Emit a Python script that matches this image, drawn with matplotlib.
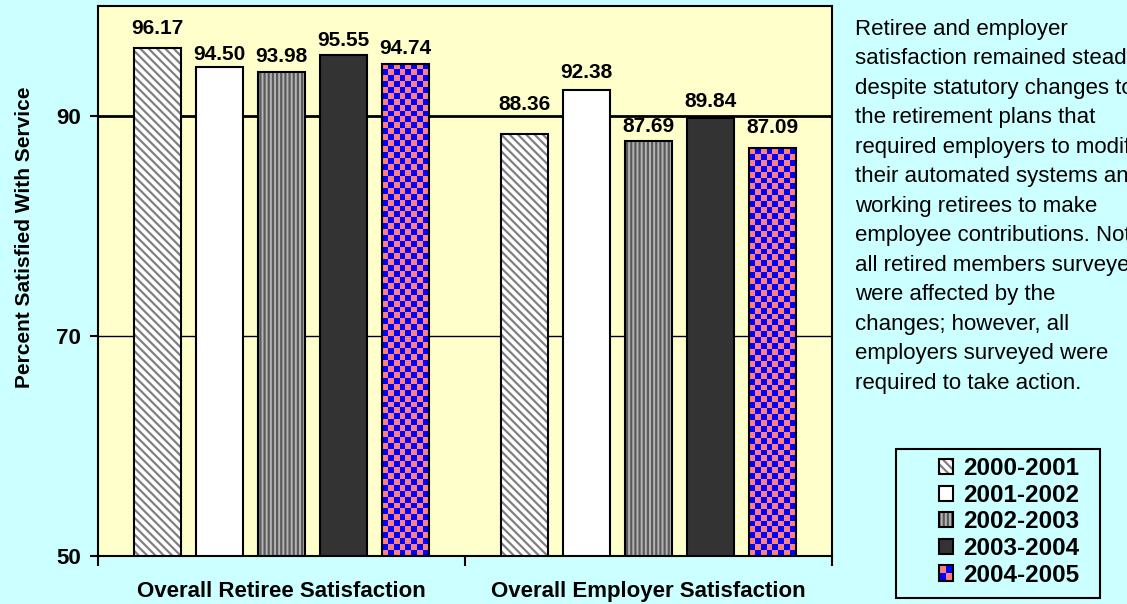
import numpy as np
import matplotlib.pyplot as plt
from matplotlib.patches import Rectangle
from matplotlib.colors import ListedColormap
from matplotlib.legend_handler import HandlerBase

plt.rcParams['font.family'] = ['Liberation Sans', 'DejaVu Sans']
plt.rcParams['hatch.linewidth'] = 1.6

# Survey results
categories = ['Overall Retiree Satisfaction', 'Overall Employer Satisfaction']
years = ['2000-2001', '2001-2002', '2002-2003', '2003-2004', '2004-2005']
retiree = [96.17, 94.50, 93.98, 95.55, 94.74]
employer = [88.36, 92.38, 87.69, 89.84, 87.09]
yticks = [50, 70, 90]

note = ("Retiree and employer\n"
        "satisfaction remained steady\n"
        "despite statutory changes to\n"
        "the retirement plans that\n"
        "required employers to modify\n"
        "their automated systems and\n"
        "working retirees to make\n"
        "employee contributions. Not\n"
        "all retired members surveyed\n"
        "were affected by the\n"
        "changes; however, all\n"
        "employers surveyed were\n"
        "required to take action.")

BG = '#CCFFFF'
PLOT_BG = '#FFFFCC'
SALMON = '#FF8080'
BLUE = '#0000FF'

# fill style per season: (face, hatch colour, hatch, checkerboard?)
styles = [
    ('white', '#808080', r'\\\\', False),
    ('white', 'white', '', False),
    ('#B4B4B4', '#5A5A5A', '||||', False),
    ('#333333', '#333333', '', False),
    (SALMON, SALMON, '', True),
]
# label distance above each bar top, pixels
label_gap = [[14, 7, 10, 9, 10], [24, 12, 9, 11, 15]]

fig = plt.figure(figsize=(11.27, 6.04), dpi=100, facecolor=BG)
ax = fig.add_axes([98 / 1127, 48 / 604, 734 / 1127, 550 / 604])
ax.set_facecolor(PLOT_BG)
ax.set_axisbelow(True)

x = np.arange(len(categories))
step, width = 0.169, 0.128
values = np.array([retiree, employer])
checker_cmap = ListedColormap([SALMON, BLUE])

for i, (face, hcol, hatch, checker) in enumerate(styles):
    xs = x + (i - 2) * step
    vals = values[:, i]
    bars = ax.bar(xs, vals, width, color=face, edgecolor=hcol, hatch=hatch,
                  lw=0, zorder=2)
    if checker:
        for b in bars:
            x0, w, top = b.get_x(), b.get_width(), b.get_height()
            cols = 8
            rows = max(1, int(round((top - 50) * 11 / 5.9)))
            cells = np.add.outer(np.arange(rows), np.arange(cols)) % 2
            im = ax.imshow(cells, extent=(x0, x0 + w, 50, top), origin='upper',
                           aspect='auto', interpolation='nearest',
                           cmap=checker_cmap, zorder=2.5)
            im.set_clip_path(b)
    ax.bar(xs, vals, width, fill=False, edgecolor='black', lw=1.5, zorder=3)
    for j, (xp, v) in enumerate(zip(xs, vals)):
        ax.annotate(f'{v:.2f}', (xp, v), xytext=(0, label_gap[j][i]),
                    textcoords='offset pixels', ha='center', va='baseline',
                    fontsize=15, fontweight='bold', zorder=4)

ax.set_xlim(-0.5, 1.5)
ax.set_ylim(50, 100)

ax.set_yticks(yticks)
ax.set_yticklabels([str(t) for t in yticks], fontweight='bold')
ax.tick_params(axis='y', direction='out', length=6, width=1.5,
               labelsize=16, pad=6)
ax.yaxis.grid(True, color='black', lw=1)
ax.get_ygridlines()[2].set_linewidth(2)

ax.set_xticks([-0.5, 0.5, 1.5])
ax.set_xticklabels([])
ax.tick_params(axis='x', which='major', direction='out', length=7, width=1.5)
ax.set_xticks(x, minor=True)
ax.set_xticklabels(categories, minor=True, fontsize=16, fontweight='bold')
ax.tick_params(axis='x', which='minor', length=0, pad=18)

for s in ax.spines.values():
    s.set_linewidth(1.5)
    s.set_color('black')

fig.text(25 / 1127, 1 - 237 / 604, 'Percent Satisfied With Service',
         rotation=90, ha='center', va='center', fontsize=15,
         fontweight='bold')

fig.text(855 / 1127, 1 - 19 / 604, note, ha='left', va='top',
         fontsize=16, linespacing=1.53)


class CheckerHandler(HandlerBase):
    def create_artists(self, legend, orig_handle, xdescent, ydescent,
                       width, height, fontsize, trans):
        x0, y0 = -xdescent, -ydescent
        hw, hh = width / 2, height / 2
        arts = []
        for r in range(2):
            for c in range(2):
                col = BLUE if (r + c) % 2 == 0 else SALMON
                arts.append(Rectangle((x0 + c * hw, y0 + r * hh), hw, hh,
                                      facecolor=col, lw=0, transform=trans))
        arts.append(Rectangle((x0, y0), width, height, fill=False,
                              edgecolor='black', lw=1.5, transform=trans))
        return arts


handles = []
handler_map = {}
for face, hcol, hatch, checker in styles:
    if checker:
        proxy = Rectangle((0, 0), 1, 1, facecolor=SALMON)
        handler_map[proxy] = CheckerHandler()
        handles.append(proxy)
    else:
        handles.append((Rectangle((0, 0), 1, 1, facecolor=face, edgecolor=hcol,
                                  hatch=hatch, lw=0),
                        Rectangle((0, 0), 1, 1, fill=False, edgecolor='black',
                                  lw=1.5)))

fig.legend(handles, years, loc='upper left',
           bbox_to_anchor=(939 / 1127, 1 - 457 / 604), frameon=False,
           borderpad=0, borderaxespad=0, handlelength=0.58,
           handleheight=0.58, handletextpad=0.42, labelspacing=0.15,
           prop={'weight': 'bold', 'size': 17.5}, handler_map=handler_map)
fig.add_artist(Rectangle((896 / 1127, 6 / 604), 204 / 1127, 149 / 604,
                         transform=fig.transFigure, fill=False,
                         edgecolor='black', lw=1.5))

fig.savefig('out.png', dpi=100, facecolor=fig.get_facecolor())
